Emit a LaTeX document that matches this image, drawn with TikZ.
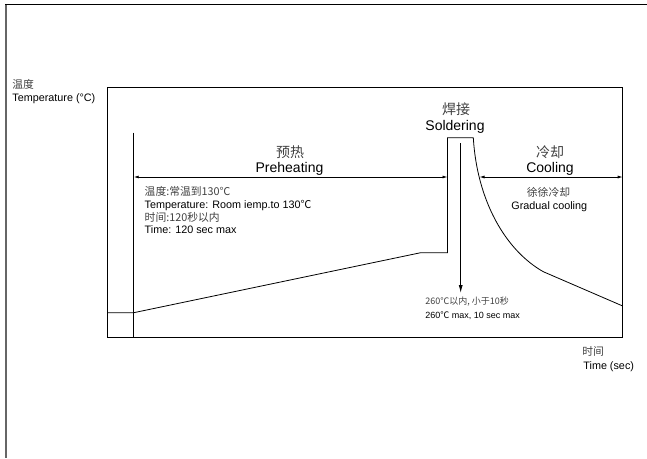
\documentclass[tikz,border=0pt]{standalone}
\usepackage{fontspec}
\setmainfont{Liberation Sans}
\newfontfamily\cjk{Noto Sans CJK SC}
\usetikzlibrary{arrows.meta}
\begin{document}
\begin{tikzpicture}[x=1pt,y=-1pt,line width=0.8pt,
  big/.style={anchor=base,inner sep=0pt,font=\fontsize{14}{16}\selectfont},
  small/.style={anchor=base west,inner sep=0pt,font=\fontsize{10.8}{13}\selectfont},
  tiny/.style={anchor=base west,inner sep=0pt,font=\fontsize{9}{11}\selectfont},
  cn/.style={text=black!75},
  span/.style={{Latex[length=5pt,width=3pt]}-{Latex[length=5pt,width=3pt]}}]
\useasboundingbox (0,0) rectangle (647,458);

% Frame
\draw[black!60,line width=2pt] (6,4) -- (6,458);
\draw (5,4) -- (647,4);

% Chart box
\draw (107.3,87.3) rectangle (622.7,337.7);

% Reflow profile
\coordinate (p0) at (107.3,312.7);
\coordinate (p1) at (133.7,312.7);
\coordinate (p2) at (420.7,252.7);
\coordinate (p3) at (447.5,252.7);
\coordinate (p4) at (447.5,137.7);
\coordinate (p5) at (473.3,137.7);
\coordinate (p6) at (543.3,271.7);
\coordinate (p7) at (622.7,306);
\draw (p0) -- (p1) -- (p2) -- (p3) -- (p4) -- (p5)
  .. controls (477,200) and (505,250) .. (p6) -- (p7);

% Start marker
\coordinate (s0) at (133.7,132.7);
\coordinate (s1) at (133.7,337.7);
\draw (s0) -- (s1);

% Zone spans
\coordinate (preL) at (133.7,177);
\coordinate (preR) at (447.5,177);
\coordinate (coolL) at (479.5,177);
\coordinate (coolR) at (622.7,177);
\draw[span] (preL) -- (preR);
\draw[span] (coolL) -- (coolR);

% Peak arrow
\coordinate (pkT) at (460.7,143.3);
\coordinate (pkB) at (460.7,293);
\draw[-{Latex[length=8pt,width=4pt]}] (pkT) -- (pkB);

% Zone titles
\node[big,cn] (preCN) at (290,157) {\cjk 预热};
\node[big] (preEN) at (289.5,172) {Preheating};
\node[big,cn] (solCN) at (456,114) {\cjk 焊接};
\node[big] (solEN) at (455,130) {Soldering};
\node[big,cn] (coolCN) at (550,157) {\cjk 冷却};
\node[big] (coolEN) at (550,172.5) {Cooling};

% Preheating notes
\node[small,cn] (pre1) at (144.3,195.5) {\cjk 温度:常温到130℃};
\node[small] (pre2) at (144.3,208.2) {Temperature: Room iemp.to 130{\cjk ℃}};
\node[small,cn] (pre3) at (144.3,221) {\cjk 时间:120秒以内};
\node[small] (pre4) at (144.3,233.7) {Time: 120 sec max};

% Cooling notes
\node[small,anchor=base,cn] (cool1) at (548.5,196) {\cjk 徐徐冷却};
\node[small,anchor=base] (cool2) at (549.3,209.5) {Gradual cooling};

% Peak notes
\node[tiny,cn] (pk1) at (425,304.5) {\cjk 260℃以内, 小于10秒};
\node[tiny] (pk2) at (425,318) {260{\cjk ℃} max, 10 sec max};

% Axis labels
\node[small,cn] (yCN) at (12,88) {\cjk 温度};
\node[small] (yEN) at (12,101) {Temperature (°C)};
\node[small,cn] (xCN) at (582,355.5) {\cjk 时间};
\node[small] (xEN) at (583,369) {Time (sec)};
\end{tikzpicture}
\end{document}
